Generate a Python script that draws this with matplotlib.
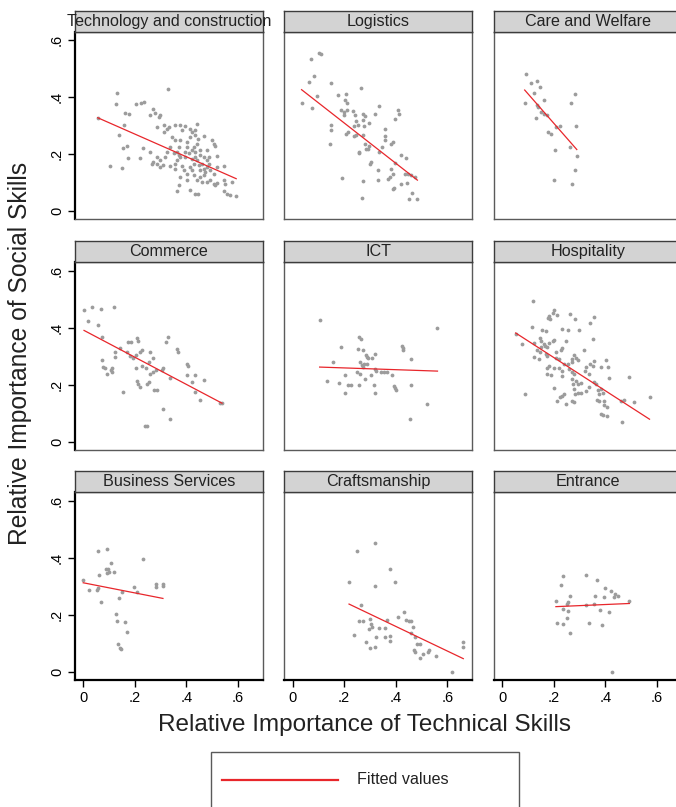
import numpy as np
import matplotlib
matplotlib.use("Agg")
import matplotlib.pyplot as plt
from matplotlib.patches import Rectangle
from matplotlib.lines import Line2D

plt.rcParams["font.family"] = ["Liberation Sans", "DejaVu Sans"]

# ---- data ----
panel_names = ["Technology and construction", "Logistics", "Care and Welfare",
               "Commerce", "ICT", "Hospitality",
               "Business Services", "Craftsmanship", "Entrance"]

tech_x = [0.056, 0.130, 0.127, 0.327, 0.205, 0.224, 0.236, 0.162, 0.178, 0.257,
          0.272, 0.279, 0.294, 0.298, 0.158, 0.137, 0.104, 0.152, 0.156, 0.169,
          0.175, 0.220, 0.233, 0.259, 0.285, 0.315, 0.324, 0.333, 0.315, 0.344,
          0.357, 0.376, 0.383, 0.396, 0.412, 0.422, 0.432, 0.441, 0.415, 0.435,
          0.445, 0.467, 0.499, 0.506, 0.510, 0.402, 0.428, 0.454, 0.480, 0.519,
          0.363, 0.370, 0.350, 0.376, 0.324, 0.318, 0.298, 0.285, 0.272, 0.266,
          0.298, 0.311, 0.285, 0.337, 0.357, 0.383, 0.389, 0.402, 0.415, 0.422,
          0.428, 0.435, 0.441, 0.447, 0.454, 0.460, 0.467, 0.473, 0.480, 0.486,
          0.493, 0.506, 0.519, 0.545, 0.467, 0.454, 0.428, 0.441, 0.460, 0.480,
          0.493, 0.506, 0.512, 0.519, 0.545, 0.551, 0.577, 0.402, 0.376, 0.370,
          0.363, 0.415, 0.432, 0.444, 0.545, 0.558, 0.568, 0.593, 0.357, 0.363,
          0.396, 0.409, 0.422, 0.435, 0.370, 0.337, 0.402, 0.441, 0.454, 0.467,
          0.480, 0.422, 0.486, 0.396, 0.376, 0.357]
tech_y = [0.328, 0.415, 0.376, 0.430, 0.377, 0.381, 0.384, 0.346, 0.342, 0.336,
          0.359, 0.346, 0.330, 0.336, 0.303, 0.266, 0.158, 0.151, 0.221, 0.228,
          0.185, 0.187, 0.221, 0.207, 0.295, 0.303, 0.289, 0.295, 0.278, 0.260,
          0.303, 0.301, 0.284, 0.298, 0.289, 0.278, 0.284, 0.305, 0.260, 0.266,
          0.254, 0.264, 0.248, 0.237, 0.227, 0.243, 0.225, 0.213, 0.213, 0.192,
          0.207, 0.196, 0.202, 0.190, 0.207, 0.190, 0.178, 0.166, 0.172, 0.164,
          0.155, 0.161, 0.190, 0.157, 0.149, 0.157, 0.143, 0.131, 0.155, 0.145,
          0.166, 0.190, 0.178, 0.161, 0.143, 0.166, 0.149, 0.137, 0.155, 0.166,
          0.143, 0.131, 0.155, 0.157, 0.125, 0.120, 0.125, 0.108, 0.102, 0.102,
          0.108, 0.096, 0.090, 0.098, 0.110, 0.096, 0.102, 0.108, 0.120, 0.090,
          0.070, 0.075, 0.061, 0.061, 0.070, 0.059, 0.055, 0.052, 0.166, 0.178,
          0.190, 0.202, 0.213, 0.207, 0.225, 0.225, 0.225, 0.237, 0.196, 0.190,
          0.178, 0.184, 0.190, 0.207, 0.248, 0.248]

logi_x = [0.071, 0.104, 0.110, 0.065, 0.084, 0.095, 0.035, 0.074, 0.149, 0.266,
          0.178, 0.208, 0.205, 0.210, 0.188, 0.201, 0.199, 0.211, 0.233, 0.242,
          0.272, 0.281, 0.318, 0.337, 0.409, 0.412, 0.399, 0.246, 0.253, 0.240,
          0.272, 0.276, 0.298, 0.149, 0.149, 0.147, 0.208, 0.214, 0.240, 0.246,
          0.272, 0.357, 0.357, 0.357, 0.389, 0.383, 0.279, 0.298, 0.292, 0.259,
          0.256, 0.285, 0.346, 0.335, 0.419, 0.441, 0.305, 0.302, 0.396, 0.333,
          0.383, 0.389, 0.376, 0.370, 0.435, 0.447, 0.460, 0.473, 0.191, 0.272,
          0.331, 0.419, 0.393, 0.389, 0.445, 0.464, 0.451, 0.484, 0.269]
logi_y = [0.535, 0.555, 0.550, 0.453, 0.473, 0.403, 0.380, 0.362, 0.450, 0.433,
          0.407, 0.410, 0.389, 0.380, 0.356, 0.348, 0.336, 0.354, 0.350, 0.338,
          0.340, 0.335, 0.339, 0.368, 0.356, 0.340, 0.323, 0.316, 0.301, 0.298,
          0.321, 0.298, 0.309, 0.301, 0.284, 0.234, 0.272, 0.278, 0.262, 0.266,
          0.266, 0.289, 0.264, 0.251, 0.243, 0.234, 0.234, 0.228, 0.219, 0.207,
          0.202, 0.216, 0.225, 0.207, 0.196, 0.187, 0.172, 0.164, 0.169, 0.145,
          0.149, 0.131, 0.120, 0.114, 0.129, 0.131, 0.125, 0.120, 0.116, 0.105,
          0.110, 0.093, 0.082, 0.078, 0.098, 0.064, 0.043, 0.041, 0.046]

care_x = [0.092, 0.110, 0.136, 0.147, 0.123, 0.087, 0.134, 0.139, 0.162, 0.152,
          0.160, 0.173, 0.132, 0.208, 0.224, 0.179, 0.188, 0.268, 0.283, 0.285,
          0.205, 0.263, 0.289, 0.281, 0.201, 0.271]
care_y = [0.483, 0.450, 0.456, 0.434, 0.415, 0.380, 0.371, 0.366, 0.389, 0.348,
          0.342, 0.336, 0.326, 0.295, 0.298, 0.278, 0.269, 0.380, 0.410, 0.298,
          0.213, 0.225, 0.192, 0.145, 0.108, 0.093]

comm_x = [0.003, 0.035, 0.067, 0.119, 0.018, 0.056, 0.074, 0.074, 0.078, 0.084,
          0.091, 0.106, 0.113, 0.110, 0.123, 0.123, 0.143, 0.169, 0.182, 0.175,
          0.185, 0.208, 0.211, 0.205, 0.192, 0.227, 0.220, 0.227, 0.205, 0.244,
          0.257, 0.270, 0.253, 0.259, 0.272, 0.283, 0.311, 0.305, 0.208, 0.214,
          0.220, 0.255, 0.249, 0.276, 0.285, 0.153, 0.322, 0.328, 0.363, 0.367,
          0.335, 0.402, 0.406, 0.402, 0.435, 0.421, 0.467, 0.435, 0.454, 0.309,
          0.335, 0.240, 0.246, 0.532, 0.538]
comm_y = [0.462, 0.473, 0.467, 0.473, 0.422, 0.409, 0.368, 0.286, 0.262, 0.260,
          0.239, 0.251, 0.258, 0.243, 0.316, 0.298, 0.328, 0.313, 0.301, 0.351,
          0.351, 0.363, 0.354, 0.303, 0.292, 0.321, 0.316, 0.266, 0.260, 0.258,
          0.313, 0.293, 0.278, 0.239, 0.243, 0.251, 0.260, 0.251, 0.213, 0.204,
          0.190, 0.211, 0.202, 0.180, 0.182, 0.173, 0.351, 0.368, 0.325, 0.316,
          0.223, 0.274, 0.266, 0.234, 0.234, 0.211, 0.216, 0.173, 0.145, 0.116,
          0.079, 0.053, 0.053, 0.137, 0.134]

ict_x = [0.105, 0.562, 0.259, 0.266, 0.188, 0.253, 0.272, 0.424, 0.428, 0.428,
         0.320, 0.285, 0.289, 0.292, 0.307, 0.460, 0.156, 0.263, 0.268, 0.272,
         0.276, 0.289, 0.250, 0.263, 0.320, 0.324, 0.341, 0.354, 0.367, 0.305,
         0.385, 0.204, 0.279, 0.134, 0.179, 0.214, 0.227, 0.257, 0.315, 0.392,
         0.396, 0.400, 0.460, 0.205, 0.320, 0.521, 0.455]
ict_y = [0.426, 0.400, 0.366, 0.360, 0.334, 0.327, 0.323, 0.336, 0.328, 0.322,
         0.307, 0.305, 0.298, 0.292, 0.295, 0.289, 0.278, 0.278, 0.269, 0.262,
         0.271, 0.271, 0.246, 0.239, 0.254, 0.248, 0.243, 0.243, 0.243, 0.234,
         0.234, 0.234, 0.219, 0.213, 0.207, 0.199, 0.197, 0.197, 0.198, 0.196,
         0.187, 0.180, 0.199, 0.171, 0.170, 0.131, 0.079]

hosp_x = [0.121, 0.201, 0.195, 0.182, 0.178, 0.185, 0.211, 0.263, 0.282, 0.357,
          0.341, 0.117, 0.156, 0.169, 0.230, 0.253, 0.296, 0.052, 0.078, 0.123,
          0.147, 0.152, 0.160, 0.165, 0.152, 0.175, 0.182, 0.195, 0.201, 0.246,
          0.350, 0.136, 0.147, 0.169, 0.175, 0.123, 0.143, 0.208, 0.227, 0.233,
          0.208, 0.221, 0.318, 0.279, 0.285, 0.272, 0.292, 0.269, 0.240, 0.182,
          0.175, 0.201, 0.221, 0.233, 0.253, 0.259, 0.175, 0.188, 0.324, 0.321,
          0.341, 0.350, 0.357, 0.337, 0.383, 0.402, 0.411, 0.269, 0.279, 0.272,
          0.285, 0.276, 0.292, 0.305, 0.231, 0.415, 0.493, 0.357, 0.363, 0.337,
          0.201, 0.087, 0.230, 0.240, 0.224, 0.211, 0.246, 0.269, 0.279, 0.279,
          0.282, 0.292, 0.305, 0.324, 0.370, 0.383, 0.389, 0.376, 0.367, 0.376,
          0.393, 0.396, 0.408, 0.383, 0.389, 0.406, 0.460, 0.473, 0.512, 0.571,
          0.464]
hosp_y = [0.494, 0.463, 0.451, 0.441, 0.433, 0.430, 0.445, 0.450, 0.430, 0.436,
          0.415, 0.401, 0.391, 0.389, 0.397, 0.393, 0.393, 0.377, 0.342, 0.348,
          0.363, 0.354, 0.342, 0.336, 0.333, 0.333, 0.348, 0.354, 0.356, 0.354,
          0.360, 0.321, 0.313, 0.309, 0.301, 0.298, 0.289, 0.316, 0.321, 0.328,
          0.295, 0.289, 0.321, 0.305, 0.295, 0.289, 0.286, 0.278, 0.273, 0.265,
          0.260, 0.258, 0.260, 0.248, 0.272, 0.254, 0.237, 0.234, 0.262, 0.248,
          0.274, 0.266, 0.284, 0.239, 0.262, 0.286, 0.262, 0.243, 0.237, 0.219,
          0.213, 0.202, 0.204, 0.207, 0.231, 0.223, 0.227, 0.210, 0.204, 0.192,
          0.187, 0.166, 0.160, 0.166, 0.155, 0.141, 0.131, 0.141, 0.139, 0.184,
          0.166, 0.169, 0.169, 0.178, 0.180, 0.184, 0.172, 0.166, 0.145, 0.141,
          0.141, 0.129, 0.122, 0.098, 0.094, 0.090, 0.143, 0.145, 0.139, 0.157,
          0.069]

bus_x = [0.056, 0.093, 0.106, 0.088, 0.097, 0.093, 0.101, 0.119, 0.062, 0.000,
         0.022, 0.052, 0.058, 0.233, 0.197, 0.210, 0.149, 0.139, 0.281, 0.281,
         0.309, 0.309, 0.070, 0.126, 0.132, 0.162, 0.171, 0.135, 0.143, 0.147]
bus_y = [0.424, 0.430, 0.383, 0.362, 0.360, 0.347, 0.350, 0.350, 0.339, 0.323,
         0.286, 0.287, 0.292, 0.395, 0.298, 0.280, 0.281, 0.260, 0.307, 0.298,
         0.307, 0.301, 0.246, 0.204, 0.178, 0.175, 0.139, 0.096, 0.084, 0.081]

craft_x = [0.318, 0.248, 0.379, 0.219, 0.398, 0.319, 0.266, 0.434, 0.409, 0.441,
           0.451, 0.460, 0.256, 0.275, 0.302, 0.305, 0.308, 0.298, 0.337, 0.359,
           0.366, 0.467, 0.458, 0.237, 0.324, 0.357, 0.376, 0.379, 0.285, 0.318,
           0.301, 0.476, 0.484, 0.493, 0.471, 0.476, 0.506, 0.493, 0.529, 0.525,
           0.558, 0.617, 0.662, 0.662]
craft_y = [0.452, 0.423, 0.360, 0.316, 0.316, 0.299, 0.234, 0.211, 0.190, 0.180,
           0.178, 0.176, 0.176, 0.176, 0.186, 0.166, 0.158, 0.149, 0.152, 0.152,
           0.180, 0.155, 0.134, 0.127, 0.123, 0.120, 0.125, 0.108, 0.105, 0.088,
           0.082, 0.122, 0.098, 0.096, 0.075, 0.067, 0.061, 0.047, 0.075, 0.067,
           0.055, -0.001, 0.104, 0.087]

entr_x = [0.237, 0.324, 0.367, 0.227, 0.398, 0.422, 0.438, 0.447, 0.432, 0.359,
          0.393, 0.261, 0.208, 0.493, 0.256, 0.250, 0.324, 0.354, 0.237, 0.253,
          0.380, 0.415, 0.250, 0.211, 0.236, 0.337, 0.387, 0.263, 0.424]
entr_y = [0.336, 0.339, 0.322, 0.305, 0.295, 0.284, 0.274, 0.266, 0.262, 0.266,
          0.262, 0.266, 0.248, 0.248, 0.243, 0.237, 0.234, 0.237, 0.219, 0.213,
          0.217, 0.210, 0.187, 0.171, 0.166, 0.169, 0.164, 0.137, -0.001]

panel_x = [tech_x, logi_x, care_x, comm_x, ict_x, hosp_x, bus_x, craft_x, entr_x]
panel_y = [tech_y, logi_y, care_y, comm_y, ict_y, hosp_y, bus_y, craft_y, entr_y]

# fitted values (intercept, slope)
fit_intercept = [0.350, 0.451, 0.515, 0.392, 0.265, 0.412, 0.312, 0.332, 0.220]
fit_slope = [-0.399, -0.708, -1.035, -0.478, -0.031, -0.584, -0.178, -0.433, 0.039]

tick_vals = [0, 0.2, 0.4, 0.6]
tick_labels = ["0", ".2", ".4", ".6"]

# ---- layout (pixels in a 676x807 canvas) ----
W, H = 676, 807
col_left = [75, 284.3, 494]
row_top = [31.7, 262.3, 492.3]
box_w, box_h = 187.5, 187.5
strip_h = 21

dot_color = "#9c9c9c"
fit_color = "#e8262b"
frame_color = "#5a5a5a"

fig = plt.figure(figsize=(W / 100, H / 100), dpi=100)

for i, name in enumerate(panel_names):
    r, c = divmod(i, 3)
    left, top = col_left[c], row_top[r]
    ax = fig.add_axes([left / W, 1 - (top + box_h) / H, box_w / W, box_h / H])
    x = np.array(panel_x[i])
    y = np.array(panel_y[i])
    ax.scatter(x, y, s=7.5, color=dot_color, linewidths=0, zorder=2)

    # fitted line over the observed x range
    xs = np.array([x.min(), x.max()])
    ax.plot(xs, fit_intercept[i] + fit_slope[i] * xs, color=fit_color,
            lw=0.9, zorder=3)

    ax.set_xlim(-0.032, 0.695)
    ax.set_ylim(-0.029, 0.630)

    for side in ax.spines:
        ax.spines[side].set_color(frame_color)
        ax.spines[side].set_linewidth(1.0)

    if c == 0:
        ax.set_yticks(tick_vals)
        ax.set_yticklabels(tick_labels, rotation=90, va="center")
        ax.spines["left"].set_color("black")
        ax.spines["left"].set_linewidth(1.6)
    else:
        ax.set_yticks([])
    if r == 2:
        ax.set_xticks(tick_vals)
        ax.set_xticklabels(tick_labels)
        ax.spines["bottom"].set_color("black")
        ax.spines["bottom"].set_linewidth(1.6)
    else:
        ax.set_xticks([])
    ax.tick_params(direction="out", length=5, width=1, labelsize=10.5,
                   colors="black", pad=3)

    # title strip
    sax = fig.add_axes([left / W, 1 - top / H, box_w / W, strip_h / H])
    sax.set_facecolor("#d3d3d3")
    sax.set_xticks([])
    sax.set_yticks([])
    for side in sax.spines:
        sax.spines[side].set_color("#3c3c3c")
        sax.spines[side].set_linewidth(1.0)
    sax.text(0.5, 0.5, name, transform=sax.transAxes, ha="center",
             va="center", fontsize=11.6, color="#222222")

# axis titles
fig.text(365 / W, 1 - 725 / H, "Relative Importance of Technical Skills",
         ha="center", va="center", fontsize=17.5, color="#222222")
fig.text(20 / W, 1 - 353 / H, "Relative Importance of Social Skills",
         ha="center", va="center", rotation=90, fontsize=17.7, color="#222222")

# legend box
fig.add_artist(Rectangle((211 / W, 1 - 810 / H), 308 / W, 58 / H,
                         transform=fig.transFigure, facecolor="white",
                         edgecolor=frame_color, lw=1.0))
fig.add_artist(Line2D([222 / W, 338 / W], [1 - 780 / H, 1 - 780 / H],
                      transform=fig.transFigure, color=fit_color, lw=1.6))
fig.text(357 / W, 1 - 780 / H, "Fitted values", ha="left", va="center",
         fontsize=11.6, color="#222222")

fig.savefig("out.png", dpi=100)
